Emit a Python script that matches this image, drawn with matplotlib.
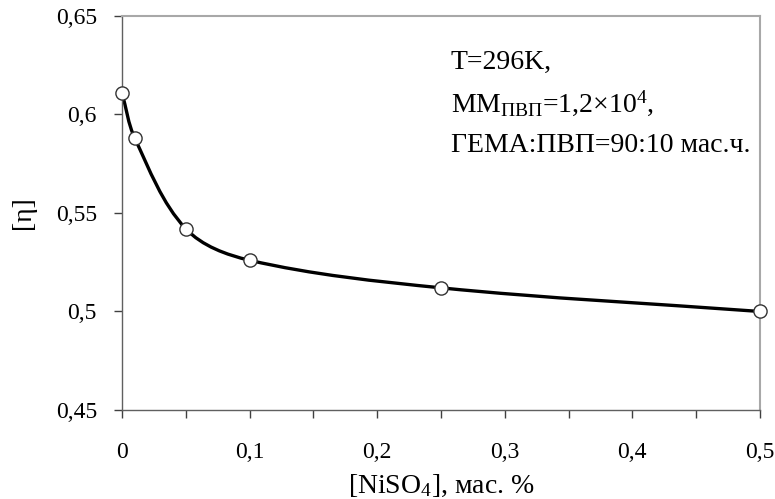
import matplotlib
matplotlib.use("Agg")
import matplotlib.pyplot as plt
from matplotlib.path import Path
from matplotlib.patches import PathPatch
import numpy as np

x_vals = [0.0, 0.01, 0.05, 0.1, 0.25, 0.5]
eta_vals = [0.611, 0.588, 0.542, 0.526, 0.512, 0.500]
x_ticks = [0.0, 0.05, 0.1, 0.15, 0.2, 0.25, 0.3, 0.35, 0.4, 0.45, 0.5]
x_tick_labels = ["0", "", "0,1", "", "0,2", "", "0,3", "", "0,4", "", "0,5"]
y_ticks = [0.45, 0.5, 0.55, 0.6, 0.65]
y_tick_labels = ["0,45", "0,5", "0,55", "0,6", "0,65"]

plt.rcParams['font.family'] = ['Liberation Serif', 'DejaVu Serif']
plt.rcParams['mathtext.fontset'] = 'custom'
plt.rcParams['mathtext.rm'] = 'Liberation Serif'
plt.rcParams['mathtext.it'] = 'Liberation Serif:italic'

fig = plt.figure(figsize=(7.75, 4.99), dpi=100)
ax = fig.add_axes([0.1574, 0.1784, 0.8232, 0.7896])
ax.set_xlim(0, 0.5)
ax.set_ylim(0.45, 0.65)

# smooth Bezier line through the data points (built in display space)
pts = ax.transData.transform(np.column_stack([x_vals, eta_vals]))
n = len(pts)
tangents = []
for i in range(n):
    a = pts[i - 1] if i > 0 else pts[i]
    b = pts[i + 1] if i < n - 1 else pts[i]
    d = b - a
    tangents.append(d / np.linalg.norm(d))
verts = [tuple(pts[0])]
codes = [Path.MOVETO]
for i in range(n - 1):
    seg = np.linalg.norm(pts[i + 1] - pts[i])
    c1 = pts[i] + tangents[i] * seg / 3.0
    c2 = pts[i + 1] - tangents[i + 1] * seg / 3.0
    verts += [tuple(c1), tuple(c2), tuple(pts[i + 1])]
    codes += [Path.CURVE4] * 3
inv = ax.transData.inverted()
data_verts = inv.transform(np.array(verts))
ax.add_patch(PathPatch(Path(data_verts, codes), fill=False, lw=2.4, color='black',
                       zorder=2, clip_on=False))

ax.plot(x_vals, eta_vals, linestyle='none', marker='o', markersize=9.5,
        markerfacecolor='white', markeredgecolor='#333333', markeredgewidth=1.0,
        zorder=3, clip_on=False)

ax.set_xticks(x_ticks)
ax.set_xticklabels(x_tick_labels)
ax.set_yticks(y_ticks)
ax.set_yticklabels(y_tick_labels)
ax.tick_params(axis='both', direction='out', length=6, width=1, color='#404040',
               labelsize=17)
ax.tick_params(axis='y', pad=12)
ax.tick_params(axis='x', pad=17)

for s in ['left', 'bottom']:
    ax.spines[s].set_color('#606060')
    ax.spines[s].set_linewidth(1.0)
for s in ['top', 'right']:
    ax.spines[s].set_color('#a8a8a8')
    ax.spines[s].set_linewidth(1.5)

ax.set_xlabel(r"[NiSO$_4$], мас. %", fontsize=20, labelpad=7)
ax.set_ylabel("[η]", fontsize=20, labelpad=14)

ax.text(0.515, 0.865, "T=296K,", transform=ax.transAxes, fontsize=20, va='baseline')
ax.text(0.515, 0.758, r"ММ$_{\mathrm{ПВП}}$=1,2×10$^{4}$,", transform=ax.transAxes,
        fontsize=20, va='baseline')
ax.text(0.515, 0.656, "ГЕМА:ПВП=90:10 мас.ч.", transform=ax.transAxes, fontsize=20,
        va='baseline')

fig.savefig("out.png", dpi=100)
